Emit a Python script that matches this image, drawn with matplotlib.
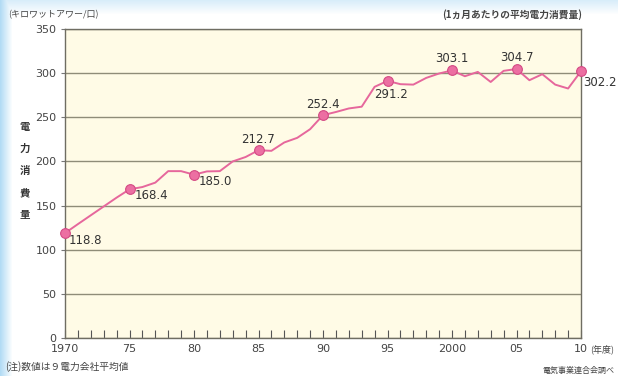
import numpy as np
import matplotlib
matplotlib.use("Agg")
import matplotlib.pyplot as plt
from matplotlib.ticker import MultipleLocator

plt.rcParams['font.family'] = ['Noto Sans CJK JP', 'DejaVu Sans']

# Average monthly household electricity consumption (kWh), fiscal years 1970-2010
years = list(range(1970, 2011))
consumption = [118.8, 129, 139, 149, 159, 168.4, 171, 176, 189, 189,
               185.0, 188.7, 189, 200, 205, 212.7, 212, 221.5, 226.7, 236.5,
               252.4, 256, 260, 262, 284.5, 291.2, 287.5, 287, 294.6, 299.6,
               303.1, 296.5, 301.4, 290, 302.6, 304.7, 292, 298.8, 287, 282.6,
               302.2]

# Highlighted years with value labels: (dx, dy) in points and horizontal alignment
label_years = [1970, 1975, 1980, 1985, 1990, 1995, 2000, 2005, 2010]
label_offsets = {1970: (3, -5.5, 'left'), 1975: (4, -4.5, 'left'), 1980: (3.5, -5, 'left'),
                 1985: (0, 8, 'center'), 1990: (0, 7.5, 'center'),
                 1995: (2.5, -9.5, 'center'), 2000: (0, 8.5, 'center'),
                 2005: (0, 8.5, 'center'), 2010: (1.5, -8, 'left')}

xtick_pos = [1970, 1975, 1980, 1985, 1990, 1995, 2000, 2005, 2010]
xtick_labels = ['1970', '75', '80', '85', '90', '95', '2000', '05', '10']

fig = plt.figure(figsize=(6.18, 3.76), dpi=100)

# Soft blue backdrop along the left and top edges
bg = fig.add_axes([0, 0, 1, 1], zorder=-10)
h, w = 376, 618
xx = np.linspace(0, 1, w)
yy = np.linspace(0, 1, h)
X, Y = np.meshgrid(xx, yy)
left = np.clip(1 - X * 618 / 12, 0, 1)
top = np.clip(1 - Y * 376 / 14, 0, 1) * 0.5
alpha = np.clip(np.maximum(left, top), 0, 1)
base = np.array([1.0, 1.0, 1.0])
blue = np.array([0.70, 0.86, 0.96])
img = base[None, None, :] * (1 - alpha[..., None]) + blue[None, None, :] * alpha[..., None]
bg.imshow(img, aspect='auto', extent=[0, 1, 0, 1], origin='upper')
bg.axis('off')

ax = fig.add_axes([65 / 618, 1 - 338 / 376, 516 / 618, 309 / 376])
ax.set_facecolor('#fffbe6')

ax.set_xlim(1970, 2010)
ax.set_ylim(0, 350)
ax.yaxis.set_major_locator(MultipleLocator(50))
ax.grid(axis='y', color='#8f8c78', linewidth=1.0)
ax.set_axisbelow(True)

ax.plot(years, consumption, color='#e6679c', linewidth=1.4, zorder=3, clip_on=False)
lx = label_years
ly = [consumption[years.index(y)] for y in label_years]
ax.plot(lx, ly, 'o', markersize=7, markerfacecolor='#ec6fa2',
        markeredgecolor='#d44a84', markeredgewidth=0.8, zorder=4, clip_on=False)
for x, y in zip(lx, ly):
    dx, dy, ha = label_offsets[x]
    ax.annotate(f'{y:.1f}', (x, y), xytext=(dx, dy), textcoords='offset points',
                fontsize=8.5, color='#333333', ha=ha, va='center',
                family='DejaVu Sans', annotation_clip=False)

ax.set_xticks(xtick_pos)
ax.set_xticklabels(xtick_labels)
ax.xaxis.set_minor_locator(MultipleLocator(1))
ax.tick_params(axis='x', which='both', direction='in', length=6, width=0.8,
               color='#555555', labelsize=8, pad=4, labelcolor='#444444')
ax.tick_params(axis='y', direction='out', length=3, width=0.8, color='#777777',
               labelsize=8, labelcolor='#444444', pad=3)
for lab in ax.get_xticklabels() + ax.get_yticklabels():
    lab.set_family('DejaVu Sans')

for s in ax.spines.values():
    s.set_color('#6f6d62')
    s.set_linewidth(1.0)

fig.text(8 / 618, 1 - 15 / 376, '(キロワットアワー/口)', fontsize=6.5, color='#444444',
         ha='left', va='center')
fig.text(582 / 618, 1 - 15 / 376, '(1ヵ月あたりの平均電力消費量)', fontsize=7,
         color='#444444', ha='right', va='center', fontweight='bold')
fig.text(590 / 618, 1 - 349 / 376, '(年度)', fontsize=6.5, color='#444444',
         ha='left', va='center')

for i, ch in enumerate('電力消費量'):
    fig.text(25 / 618, 1 - (127 + i * 22) / 376, ch, fontsize=7.5, color='#333333',
             ha='center', va='center', fontweight='bold')

fig.text(5 / 618, 1 - 367 / 376, '(注)数値は９電力会社平均値', fontsize=7,
         color='#444444', ha='left', va='center')
fig.text(614 / 618, 1 - 370 / 376, '電気事業連合会調べ', fontsize=5.8,
         color='#444444', ha='right', va='center')

fig.savefig('out.png', dpi=100)
